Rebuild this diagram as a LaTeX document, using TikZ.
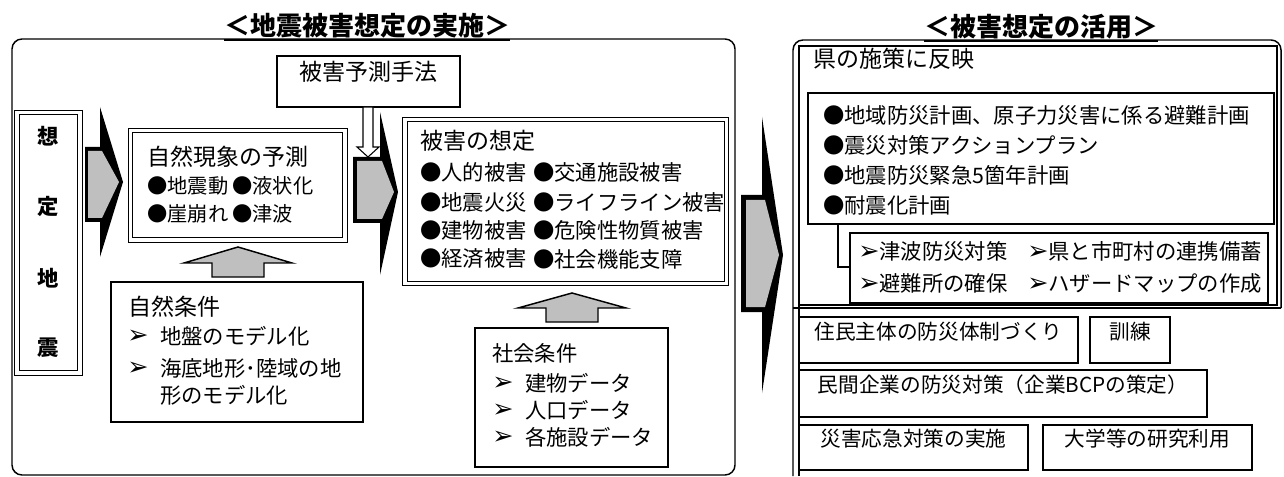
\documentclass[tikz,border=0pt]{standalone}
\usepackage{fontspec}
\setmainfont{Noto Sans CJK JP}
\newfontfamily\dv{DejaVu Sans}
\usetikzlibrary{fit}
\newcommand{\myfs}[1]{\fontsize{#1}{#1}\selectfont}
\newcommand{\mk}{{\dv\myfs{19pt}\raisebox{-0.5pt}{➢}}}
\tikzset{
  box/.style={draw, line width=0.9pt, inner sep=0pt},
  dbox/.style={draw, line width=0.8pt, double, double distance=2.6pt, inner sep=0pt},
  tx/.style={anchor=west, inner sep=0pt, font=\myfs{16pt}},
  bl/.style={anchor=west, inner sep=0pt, font=\myfs{15.2pt}},
  hd/.style={anchor=west, inner sep=0pt, font=\myfs{17.25pt}},
  mkn/.style={anchor=west, inner sep=0pt},
  bt/.style={font=\myfs{15.5pt}},
  vt/.style={inner sep=0pt, font=\myfs{16pt}\bfseries},
  ttl/.style={inner sep=0pt, font=\myfs{19.5pt}\bfseries},
  frame/.style={draw, line width=1.1pt},
  blk/.style={fill=black},
  grayfill/.style={fill=gray!50},
  uparr/.style={draw, line width=1.1pt, fill=gray!50, line join=miter},
  hollow/.style={draw, line width=0.8pt, fill=white},
}
\begin{document}
\begin{tikzpicture}[x=0.75pt,y=-0.75pt]
\useasboundingbox (0,0) rectangle (1284,477);

% ---------- titles ----------
\node[ttl] (t1) at (367,26) {＜地震被害想定の実施＞};
\draw[line width=1pt] ([yshift=-1pt]t1.south west) -- ([yshift=-1pt]t1.south east);
\node[ttl] (t2) at (1041,27) {＜被害想定の活用＞};
\draw[line width=1pt] ([yshift=-1pt]t2.south west) -- ([yshift=-1pt]t2.south east);

% ---------- left panel ----------
\draw[frame, rounded corners=7.5pt] (12,39) rectangle (735,475);

% 想定地震
\node[dbox, fit={(17,112.5)(80,373)}] (eq) {};
\node[vt] (eq1) at (48,136) {想};
\node[vt] (eq2) at (48,206) {定};
\node[vt] (eq3) at (48,278) {地};
\node[vt] (eq4) at (48,348) {震};

% 被害予測手法
\node[box, fit={(277,56)(460,107)}, font=\myfs{17.25pt}] (pm) {被害予測手法};

% 自然現象の予測
\node[dbox, fit={(130.5,130.5)(345,240)}] (nat) {};
\node[hd] (n0) at (147,157) {自然現象の予測};
\node[bl] (n1) at (147,186) {●地震動};
\node[bl] (n2) at (232,186) {●液状化};
\node[bl] (n3) at (147,214) {●崖崩れ};
\node[bl] (n4) at (232,214) {●津波};

% 自然条件
\node[box, fit={(111,282)(363,422)}] (nc) {};
\node[hd] (c0) at (128,307) {自然条件};
\node[mkn] (c1m) at (127,337) {\mk};
\node[tx] (c1) at (160,336) {地盤のモデル化};
\node[mkn] (c2m) at (127,369) {\mk};
\node[tx] (c2) at (160,368) {海底地形･陸域の地};
\node[tx] (c3) at (160,395) {形のモデル化};

% 被害の想定
\node[dbox, fit={(405,119.5)(726.5,283.5)}] (dm) {};
\node[hd] (d0) at (420,141) {被害の想定};
\node[tx] (d1) at (420,172) {●人的被害};
\node[tx] (d2) at (533,172) {●交通施設被害};
\node[tx] (d3) at (420,202) {●地震火災};
\node[tx] (d4) at (533,202) {●ライフライン被害};
\node[tx] (d5) at (420,230) {●建物被害};
\node[tx] (d6) at (533,230) {●危険性物質被害};
\node[tx] (d7) at (420,259) {●経済被害};
\node[tx] (d8) at (533,259) {●社会機能支障};

% 社会条件
\node[box, fit={(475,328)(668,467)}] (sc) {};
\node[tx] (s0) at (492,353) {社会条件};
\node[mkn] (s1m) at (492,384) {\mk};
\node[tx] (s1) at (525,383) {建物データ};
\node[mkn] (s2m) at (492,411) {\mk};
\node[tx] (s2) at (525,410) {人口データ};
\node[mkn] (s3m) at (492,438) {\mk};
\node[tx] (s3) at (525,437) {各施設データ};

% block arrow 1 (想定地震 -> 自然現象)
\fill[blk] (85,147) -- (100,147) -- (100,107) -- (123,182) -- (100,257) -- (100,222) -- (85,222) -- cycle;
\fill[grayfill] (88,151) -- (102,151) -- (119,182) -- (102,218) -- (88,218) -- cycle;

% block arrow 2 (自然現象 -> 被害の想定)
\fill[blk] (353,157) -- (380,157) -- (380,112) -- (398,192) -- (380,275) -- (380,223) -- (353,223) -- cycle;
\fill[grayfill] (357,161) -- (382,161) -- (394,192) -- (382,219) -- (357,219) -- cycle;

% hollow arrow from 被害予測手法
\draw[hollow] (363,107) -- (373,107) -- (373,147) -- (379,147) -- (368,157) -- (357,147) -- (363,147) -- cycle;

% up arrows
\draw[uparr] (212,277) -- (212,263) -- (184,263) -- (238,247) -- (292,263) -- (264,263) -- (264,277) -- cycle;
\draw[uparr] (546,322) -- (546,308) -- (518,308) -- (572,293) -- (626,308) -- (598,308) -- (598,322) -- cycle;

% big arrow between panels
\fill[blk] (741,195) -- (762,195) -- (762,117) -- (783,255) -- (762,393) -- (762,312) -- (741,312) -- cycle;
\fill[grayfill] (746,200) -- (765,200) -- (779,255) -- (765,307) -- (746,307) -- cycle;

% ---------- right panel ----------
\draw[frame, rounded corners=7.5pt] (793,476) -- (793,40) -- (1281,40) -- (1281,308);
\draw[frame] (793,308) -- (1281,308);
\draw[frame] (799,476) -- (799,46) -- (1277,46) -- (1277,305) -- (799,305);

\node[anchor=west, inner sep=0pt, font=\myfs{17.25pt}] (r0) at (813,59) {県の施策に反映};
\node[box, fit={(808,93)(1274,224)}] (bul) {};
\node[tx] (r1) at (823,115) {●地域防災計画、原子力災害に係る避難計画};
\node[tx] (r2) at (823,145) {●震災対策アクションプラン};
\node[tx] (r3) at (823,175) {●地震防災緊急5箇年計画};
\node[tx] (r4) at (823,205) {●耐震化計画};

\node[box, fit={(850,233)(1268,303)}] (sub) {};
\coordinate (k1) at (838,224);
\coordinate (k2) at (850,267);
\draw[line width=0.9pt] (k1) |- (k2);
\node[tx] (u1) at (858,251) {\mk 津波防災対策};
\node[tx] (u2) at (1027,251) {\mk 県と市町村の連携備蓄};
\node[tx] (u3) at (858,283) {\mk 避難所の確保};
\node[tx] (u4) at (1027,283) {\mk ハザードマップの作成};

% bottom boxes
\node[box, bt, fit={(799,317)(1078,363)}] (b1) {住民主体の防災体制づくり};
\node[box, bt, fit={(1090,317)(1170,363)}] (b2) {訓練};
\node[box, bt, fit={(799,370)(1207,417)}] (b3) {民間企業の防災対策（企業BCPの策定）};
\node[box, bt, fit={(799,425)(1028,470)}] (b4) {災害応急対策の実施};
\node[box, bt, fit={(1043,425)(1252,470)}] (b5) {大学等の研究利用};
\end{tikzpicture}
\end{document}
